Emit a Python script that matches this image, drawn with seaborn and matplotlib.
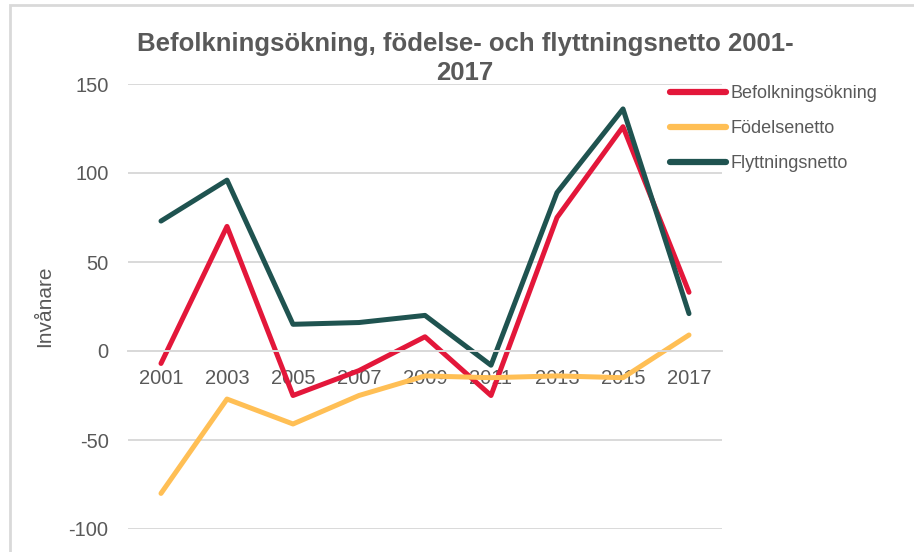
import matplotlib
matplotlib.use("Agg")
import matplotlib.pyplot as plt
import seaborn as sns
import pandas as pd
from matplotlib.patches import Rectangle
from matplotlib.ticker import FixedLocator, NullFormatter

# Data
years = ["2001", "2003", "2005", "2007", "2009", "2011", "2013", "2015", "2017"]
befolkningsokning = [-7, 70, -25, -11, 8, -25, 75, 126, 33]
fodelsenetto = [-80, -27, -41, -25, -14, -15, -14, -15, 9]
flyttningsnetto = [73, 96, 15, 16, 20, -8, 89, 136, 21]

series_names = ["Befolkningsökning", "Födelsenetto", "Flyttningsnetto"]
colors = ["#E3173A", "#FFBF55", "#1F5350"]
text_color = "#595959"
grid_color = "#D9D9D9"

df = pd.DataFrame({
    "year": years * 3,
    "value": befolkningsokning + fodelsenetto + flyttningsnetto,
    "series": [s for s in series_names for _ in years],
})

sns.set_theme(style="white")
plt.rcParams["font.family"] = ["Liberation Sans", "DejaVu Sans"]
plt.rcParams["axes.unicode_minus"] = False

W, H = 914, 552
fig = plt.figure(figsize=(W / 100, H / 100), dpi=100)
ax = fig.add_axes([128 / W, 1 - 529 / H, (722 - 128) / W, (529 - 84) / H])

sns.lineplot(data=df, x="year", y="value", hue="series", hue_order=series_names,
             palette=colors, linewidth=3.6, ax=ax, sort=False, legend=True)

ax.set_xlim(-0.5, len(years) - 0.5)
ax.set_ylim(-100, 150)
ax.set_yticks([-100, -50, 0, 50, 100, 150])

# horizontal gridlines
ax.yaxis.grid(True, color=grid_color, linewidth=1.4)
ax.xaxis.grid(False)
ax.set_axisbelow(True)

for side in ["top", "right", "left"]:
    ax.spines[side].set_visible(False)
ax.spines["bottom"].set_position(("data", 0))
ax.spines["bottom"].set_color(grid_color)
ax.spines["bottom"].set_linewidth(1.4)

# category labels under zero line, tick marks between categories
ax.tick_params(axis="x", which="major", length=0, pad=13, labelsize=14.5, labelcolor=text_color)
ax.xaxis.set_minor_locator(FixedLocator([i - 0.5 for i in range(len(years) + 1)]))
ax.xaxis.set_minor_formatter(NullFormatter())
ax.tick_params(axis="x", which="minor", length=5, width=1.4, color=grid_color, direction="out")
ax.tick_params(axis="y", length=0, pad=14, labelsize=14.5, labelcolor=text_color)

ax.set_xlabel("")
ax.set_ylabel("Invånare", fontsize=15, color=text_color)
ax.yaxis.set_label_coords((54 - 128) / (722 - 128), 0.5)

leg = ax.legend(loc="upper left", bbox_to_anchor=(670 / W, 1 - 85 / H),
                bbox_transform=fig.transFigure, frameon=False, fontsize=13,
                handlelength=3.1, handletextpad=0.25, labelspacing=1.0,
                borderpad=0, borderaxespad=0)
for t in leg.get_texts():
    t.set_color(text_color)
for h in leg.get_lines():
    h.set_linewidth(4.5)
    h.set_solid_capstyle("round")

fig.text(465 / W, 1 - 32 / H, "Befolkningsökning, födelse- och flyttningsnetto 2001-\n2017",
         ha="center", va="top", fontsize=18.5, fontweight="bold", color=text_color,
         linespacing=1.25)

# chart frame
fig.patches.append(Rectangle((10 / W, -0.1), 1.0, 1 - 5 / H + 0.1, transform=fig.transFigure,
                             fill=False, edgecolor=grid_color, linewidth=2))

fig.savefig("out.png", dpi=100)
